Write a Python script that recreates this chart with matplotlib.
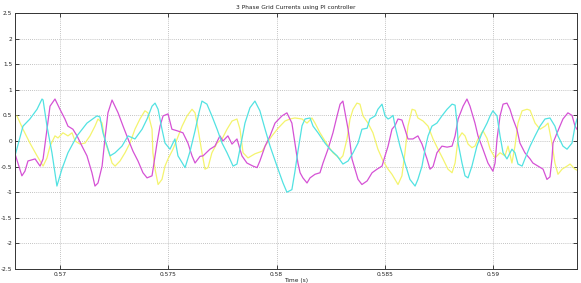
import matplotlib
matplotlib.use("Agg")
import matplotlib.pyplot as plt

# ---- data ----
cyan_t = [0.56790, 0.56827, 0.56859, 0.56892, 0.56915, 0.56920, 0.56938, 0.56961, 0.56984, 0.57007,
          0.57035, 0.57077, 0.57123, 0.57169, 0.57183, 0.57197, 0.57230, 0.57253, 0.57285, 0.57313,
          0.57345, 0.57378, 0.57401, 0.57424, 0.57438, 0.57452, 0.57470, 0.57484, 0.57507, 0.57530,
          0.57544, 0.57577, 0.57600, 0.57623, 0.57641, 0.57655, 0.57678, 0.57701, 0.57725, 0.57748,
          0.57771, 0.57799, 0.57817, 0.57840, 0.57854, 0.57877, 0.57900, 0.57923, 0.57947, 0.57970,
          0.58002, 0.58030, 0.58048, 0.58071, 0.58085, 0.58099, 0.58118, 0.58132, 0.58155, 0.58169,
          0.58192, 0.58224, 0.58247, 0.58280, 0.58307, 0.58331, 0.58354, 0.58377, 0.58395, 0.58419,
          0.58432, 0.58456, 0.58469, 0.58488, 0.58502, 0.58516, 0.58525, 0.58539, 0.58548, 0.58571,
          0.58594, 0.58617, 0.58641, 0.58654, 0.58673, 0.58687, 0.58701, 0.58719, 0.58742, 0.58765,
          0.58789, 0.58812, 0.58826, 0.58835, 0.58840, 0.58858, 0.58872, 0.58886, 0.58904, 0.58927,
          0.58951, 0.58974, 0.58988, 0.59001, 0.59020, 0.59034, 0.59048, 0.59066, 0.59089, 0.59103,
          0.59117, 0.59136, 0.59149, 0.59173, 0.59196, 0.59219, 0.59242, 0.59265, 0.59288, 0.59302,
          0.59325, 0.59344, 0.59367, 0.59381, 0.59390]
cyan_i = [-0.29, 0.29, 0.43, 0.62, 0.82, 0.80, 0.29, -0.23, -0.88, -0.55,
          -0.23, 0.10, 0.35, 0.49, 0.47, 0.16, -0.29, -0.23, -0.10, 0.10,
          0.04, 0.23, 0.43, 0.68, 0.74, 0.62, 0.23, -0.04, -0.16, 0.04,
          -0.29, -0.52, -0.20, 0.20, 0.55, 0.78, 0.72, 0.49, 0.23, -0.04,
          -0.23, -0.49, -0.45, 0.04, 0.35, 0.65, 0.78, 0.59, 0.23, -0.10,
          -0.49, -0.82, -1.00, -0.95, -0.60, -0.20, 0.30, 0.43, 0.45, 0.29,
          0.16, -0.04, -0.16, -0.29, -0.45, -0.39, -0.23, -0.04, 0.23, 0.25,
          0.43, 0.49, 0.62, 0.72, 0.49, 0.43, 0.45, 0.50, 0.30, -0.10,
          -0.43, -0.75, -0.88, -0.75, -0.49, -0.16, 0.10, 0.29, 0.35, 0.49,
          0.62, 0.72, 0.70, 0.35, -0.04, -0.43, -0.68, -0.72, -0.49, -0.10,
          0.16, 0.35, 0.49, 0.59, 0.49, 0.10, -0.23, -0.35, -0.16, -0.23,
          -0.45, -0.49, -0.35, -0.10, 0.10, 0.29, 0.43, 0.45, 0.29, 0.10,
          -0.10, -0.16, -0.04, 0.29, 0.43]

magenta_t = [0.56790, 0.56822, 0.56836, 0.56850, 0.56883, 0.56906, 0.56920, 0.56938, 0.56952, 0.56975,
             0.56998, 0.57021, 0.57035, 0.57058, 0.57077, 0.57100, 0.57123, 0.57146, 0.57160, 0.57174,
             0.57193, 0.57206, 0.57220, 0.57239, 0.57267, 0.57290, 0.57313, 0.57336, 0.57359, 0.57382,
             0.57401, 0.57424, 0.57433, 0.57447, 0.57461, 0.57475, 0.57498, 0.57516, 0.57540, 0.57567,
             0.57590, 0.57609, 0.57623, 0.57646, 0.57660, 0.57692, 0.57715, 0.57738, 0.57752, 0.57775,
             0.57794, 0.57817, 0.57840, 0.57863, 0.57891, 0.57910, 0.57923, 0.57947, 0.57970, 0.57993,
             0.58025, 0.58048, 0.58071, 0.58085, 0.58099, 0.58109, 0.58122, 0.58141, 0.58155, 0.58178,
             0.58201, 0.58215, 0.58238, 0.58261, 0.58280, 0.58294, 0.58307, 0.58317, 0.58331, 0.58340,
             0.58349, 0.58363, 0.58377, 0.58395, 0.58419, 0.58442, 0.58465, 0.58488, 0.58502, 0.58516,
             0.58534, 0.58548, 0.58562, 0.58580, 0.58594, 0.58608, 0.58631, 0.58654, 0.58673, 0.58696,
             0.58710, 0.58724, 0.58742, 0.58765, 0.58789, 0.58812, 0.58826, 0.58840, 0.58863, 0.58881,
             0.58895, 0.58918, 0.58932, 0.58955, 0.58978, 0.59001, 0.59011, 0.59020, 0.59034, 0.59048,
             0.59066, 0.59080, 0.59094, 0.59112, 0.59126, 0.59149, 0.59173, 0.59186, 0.59210, 0.59233,
             0.59251, 0.59265, 0.59274, 0.59279, 0.59298, 0.59311, 0.59325, 0.59348, 0.59367, 0.59381,
             0.59390]
magenta_i = [-0.25, -0.68, -0.59, -0.39, -0.35, -0.49, -0.35, 0.23, 0.68, 0.82,
             0.62, 0.43, 0.29, 0.23, 0.10, -0.10, -0.29, -0.62, -0.88, -0.82,
             -0.49, 0.04, 0.55, 0.80, 0.55, 0.29, 0.04, -0.20, -0.39, -0.62,
             -0.72, -0.68, -0.43, -0.04, 0.29, 0.49, 0.53, 0.23, 0.20, 0.16,
             -0.04, -0.29, -0.43, -0.30, -0.29, -0.16, -0.10, 0.10, 0.00, 0.10,
             -0.06, 0.04, -0.29, -0.43, -0.49, -0.52, -0.39, -0.10, 0.10, 0.35,
             0.49, 0.55, 0.35, -0.04, -0.43, -0.62, -0.72, -0.82, -0.72, -0.65,
             -0.62, -0.43, -0.16, 0.16, 0.49, 0.72, 0.78, 0.55, 0.23, -0.04,
             -0.35, -0.55, -0.75, -0.85, -0.78, -0.62, -0.55, -0.49, -0.29, -0.10,
             0.23, 0.30, 0.43, 0.41, 0.23, 0.04, 0.04, 0.10, -0.06, -0.35,
             -0.55, -0.50, -0.23, -0.10, -0.12, -0.10, 0.10, 0.43, 0.68, 0.82,
             0.68, 0.35, 0.10, -0.16, -0.43, -0.59, -0.43, 0.04, 0.49, 0.72,
             0.74, 0.62, 0.43, 0.23, -0.04, -0.23, -0.35, -0.43, -0.49, -0.55,
             -0.75, -0.70, -0.35, -0.04, 0.16, 0.29, 0.43, 0.55, 0.50, 0.29,
             0.23]

yellow_t = [0.56799, 0.56827, 0.56859, 0.56892, 0.56920, 0.56938, 0.56952, 0.56975, 0.56989, 0.57012,
            0.57035, 0.57054, 0.57068, 0.57091, 0.57114, 0.57137, 0.57160, 0.57174, 0.57193, 0.57206,
            0.57230, 0.57239, 0.57253, 0.57276, 0.57299, 0.57322, 0.57345, 0.57368, 0.57391, 0.57405,
            0.57424, 0.57428, 0.57438, 0.57452, 0.57470, 0.57484, 0.57498, 0.57521, 0.57540, 0.57563,
            0.57586, 0.57609, 0.57623, 0.57637, 0.57655, 0.57669, 0.57683, 0.57701, 0.57725, 0.57748,
            0.57771, 0.57794, 0.57817, 0.57831, 0.57845, 0.57868, 0.57900, 0.57933, 0.57956, 0.57979,
            0.58007, 0.58039, 0.58062, 0.58085, 0.58118, 0.58141, 0.58164, 0.58178, 0.58201, 0.58233,
            0.58261, 0.58294, 0.58307, 0.58326, 0.58340, 0.58354, 0.58372, 0.58386, 0.58400, 0.58423,
            0.58446, 0.58469, 0.58493, 0.58516, 0.58534, 0.58548, 0.58562, 0.58580, 0.58594, 0.58608,
            0.58627, 0.58641, 0.58654, 0.58678, 0.58701, 0.58724, 0.58747, 0.58770, 0.58793, 0.58812,
            0.58826, 0.58840, 0.58858, 0.58872, 0.58886, 0.58904, 0.58918, 0.58932, 0.58955, 0.58974,
            0.58988, 0.59011, 0.59034, 0.59057, 0.59071, 0.59089, 0.59103, 0.59117, 0.59136, 0.59159,
            0.59173, 0.59196, 0.59219, 0.59242, 0.59256, 0.59274, 0.59288, 0.59302, 0.59321, 0.59344,
            0.59358, 0.59381, 0.59390]
yellow_i = [0.49, 0.23, -0.04, -0.29, -0.49, -0.33, -0.10, 0.10, 0.06, 0.16,
            0.10, 0.16, 0.00, -0.06, -0.04, 0.10, 0.29, 0.43, 0.35, 0.00,
            -0.30, -0.43, -0.49, -0.39, -0.23, -0.04, 0.23, 0.43, 0.59, 0.55,
            0.23, -0.23, -0.55, -0.85, -0.75, -0.49, -0.35, -0.16, 0.04, 0.29,
            0.49, 0.62, 0.55, 0.23, -0.23, -0.55, -0.52, -0.23, -0.04, 0.04,
            0.23, 0.39, 0.43, 0.23, -0.23, -0.33, -0.25, -0.20, -0.04, 0.10,
            0.25, 0.39, 0.43, 0.45, 0.43, 0.35, 0.45, 0.35, 0.16, -0.06,
            -0.23, -0.35, -0.29, 0.04, 0.43, 0.62, 0.74, 0.72, 0.49, 0.35,
            0.16, -0.16, -0.39, -0.55, -0.65, -0.75, -0.85, -0.68, -0.23, 0.29,
            0.62, 0.60, 0.45, 0.39, 0.29, 0.04, -0.16, -0.35, -0.55, -0.62,
            -0.43, 0.04, 0.16, 0.10, -0.06, -0.13, -0.10, 0.04, 0.20, 0.05,
            -0.16, -0.33, -0.23, -0.29, -0.10, -0.43, -0.10, 0.35, 0.59, 0.62,
            0.60, 0.35, 0.23, 0.29, 0.35, -0.04, -0.43, -0.65, -0.55, -0.49,
            -0.45, -0.55, -0.57]

x_ticks = [0.57, 0.575, 0.58, 0.585, 0.59]
x_tick_labels = ["0.57", "0.575", "0.58", "0.585", "0.59"]
y_ticks = [-2.5, -2, -1.5, -1, -0.5, 0, 0.5, 1, 1.5, 2, 2.5]
y_tick_labels = ["-2.5", "-2", "-1.5", "-1", "-0.5", "0", "0.5", "1", "1.5", "2", "2.5"]
title_text = "3 Phase Grid Currents using PI controller"
xlabel_text = "Time (s)"

# ---- figure ----
fig = plt.figure(figsize=(5.81, 2.83), dpi=100)
ax = fig.add_axes([0.0258, 0.0495, 0.9673, 0.9045])

ax.plot(yellow_t, yellow_i, color="#f4f46e", lw=0.9)
ax.plot(magenta_t, magenta_i, color="#d552d5", lw=0.9)
ax.plot(cyan_t, cyan_i, color="#52e2e2", lw=0.9)

ax.set_xlim(0.5679, 0.5939)
ax.set_ylim(-2.5, 2.5)
ax.set_xticks(x_ticks)
ax.set_xticklabels(x_tick_labels)
ax.set_yticks(y_ticks)
ax.set_yticklabels(y_tick_labels)
ax.grid(True, color="#b0b0b0", linestyle=(0, (1, 1.5)), linewidth=0.6)
ax.tick_params(direction="in", length=3, width=0.6, labelsize=4.2, pad=2,
               right=True, top=True, colors="#222222")
for s in ax.spines.values():
    s.set_linewidth(0.7)
    s.set_color("#333333")

ax.set_title(title_text, fontsize=4.2, pad=3, color="#222222")
ax.set_xlabel(xlabel_text, fontsize=4.2, labelpad=1, color="#222222")

fig.savefig("out.png", dpi=100)
